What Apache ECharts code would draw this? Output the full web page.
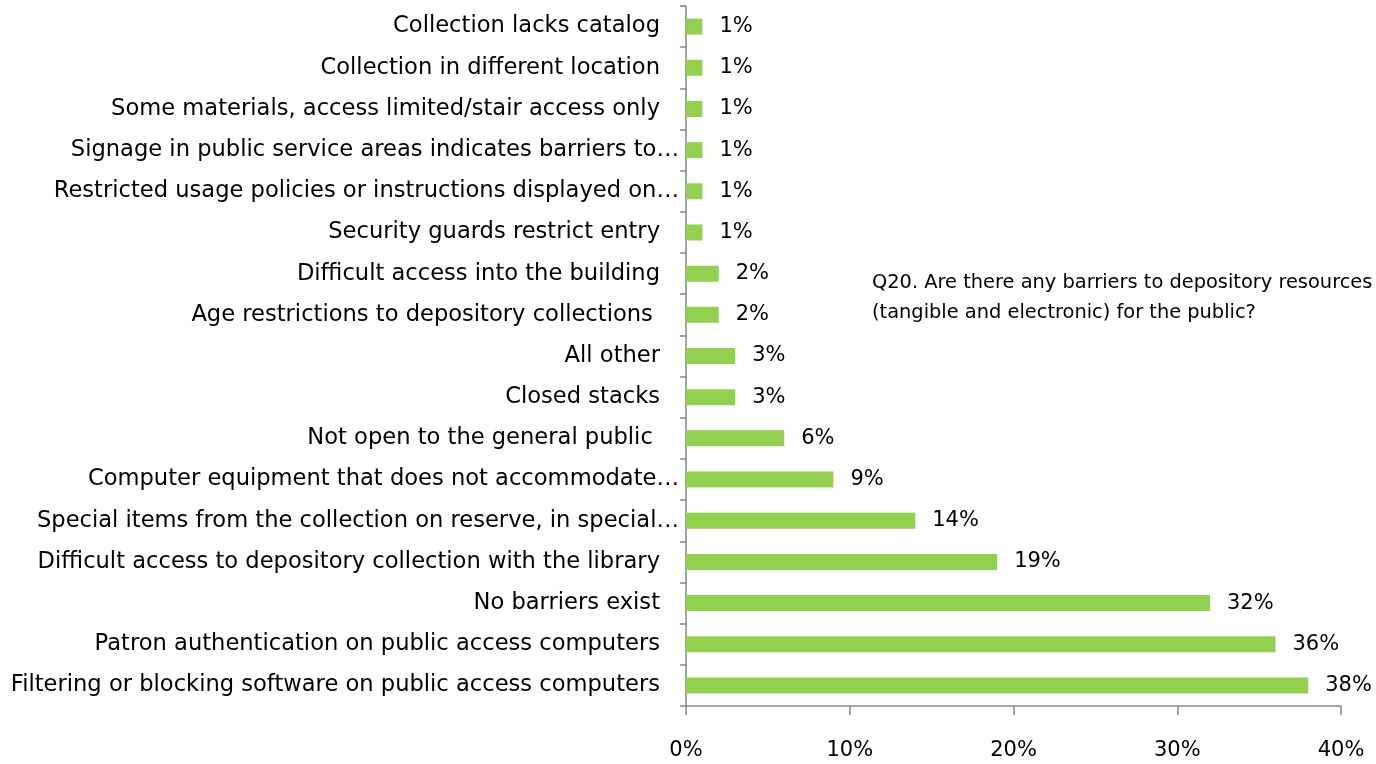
<!DOCTYPE html>
<html>
<head>
<meta charset="utf-8">
<script src="https://cdn.jsdelivr.net/npm/echarts@6/dist/echarts.min.js"></script>
<style>
  html, body { margin: 0; padding: 0; background: #fff; }
  #chart { width: 1376px; height: 764px; }
</style>
</head>
<body>
<div id="chart"></div>
<script>
// Barriers to depository resources, listed bottom-up (category axis starts at the bottom)
const categories = [
  'Filtering or blocking software on public access computers',
  'Patron authentication on public access computers',
  'No barriers exist',
  'Difficult access to depository collection with the library',
  'Special items from the collection on reserve, in special…',
  'Computer equipment that does not accommodate…',
  'Not open to the general public ',
  'Closed stacks',
  'All other',
  'Age restrictions to depository collections ',
  'Difficult access into the building',
  'Security guards restrict entry',
  'Restricted usage policies or instructions displayed on…',
  'Signage in public service areas indicates barriers to…',
  'Some materials, access limited/stair access only',
  'Collection in different location',
  'Collection lacks catalog'
];
const percentValues = [38, 36, 32, 19, 14, 9, 6, 3, 3, 2, 2, 1, 1, 1, 1, 1, 1];
const xTicks = [0, 10, 20, 30, 40];
const questionLines = [
  'Q20. Are there any barriers to depository resources',
  '(tangible and electronic) for the public?'
];

const FONT = '"DejaVu Sans", "Liberation Sans", sans-serif';
const AXIS_GREY = '#868686';
const CAT_SIZE = 22.6;

const chart = echarts.init(document.getElementById('chart'));
chart.setOption({
  animation: false,
  backgroundColor: '#ffffff',
  grid: { left: 686, right: 35, top: 6, bottom: 58, containLabel: false },
  xAxis: {
    type: 'value',
    min: xTicks[0],
    max: xTicks[xTicks.length - 1],
    interval: 10,
    splitLine: { show: false },
    axisLine: { show: true, lineStyle: { color: AXIS_GREY, width: 1.5 } },
    axisTick: { show: true, length: 9, lineStyle: { color: AXIS_GREY, width: 1.5 } },
    axisLabel: {
      margin: 34,
      color: '#000',
      fontFamily: FONT,
      fontSize: 21,
      formatter: v => v + '%'
    }
  },
  yAxis: {
    type: 'category',
    data: categories,
    axisLine: { show: true, lineStyle: { color: AXIS_GREY, width: 1.5 } },
    axisTick: { show: true, length: 6, lineStyle: { color: AXIS_GREY, width: 1.5 } },
    axisLabel: {
      margin: 7,
      color: '#000',
      fontFamily: FONT,
      fontSize: CAT_SIZE,
      interval: 0,
      // truncated labels run up to the axis; full labels keep a wider gap
      formatter: v => v.endsWith('…') ? '{t|' + v + '}' : '{n|' + v + '}',
      rich: {
        t: { fontFamily: FONT, fontSize: CAT_SIZE, color: '#000' },
        n: { fontFamily: FONT, fontSize: CAT_SIZE, color: '#000', padding: [0, 19, 0, 0] }
      }
    }
  },
  series: [{
    type: 'bar',
    data: percentValues,
    barWidth: 16,
    itemStyle: { color: '#92D050' },
    label: {
      show: true,
      position: 'right',
      distance: 17,
      color: '#000',
      fontFamily: FONT,
      fontSize: 21,
      formatter: p => p.value + '%'
    }
  }],
  graphic: [{
    type: 'text',
    left: 872,
    top: 268,
    style: {
      text: questionLines.join('\n'),
      fontFamily: FONT,
      fontSize: 19.4,
      lineHeight: 30,
      fill: '#000'
    }
  }]
});
</script>
</body>
</html>
